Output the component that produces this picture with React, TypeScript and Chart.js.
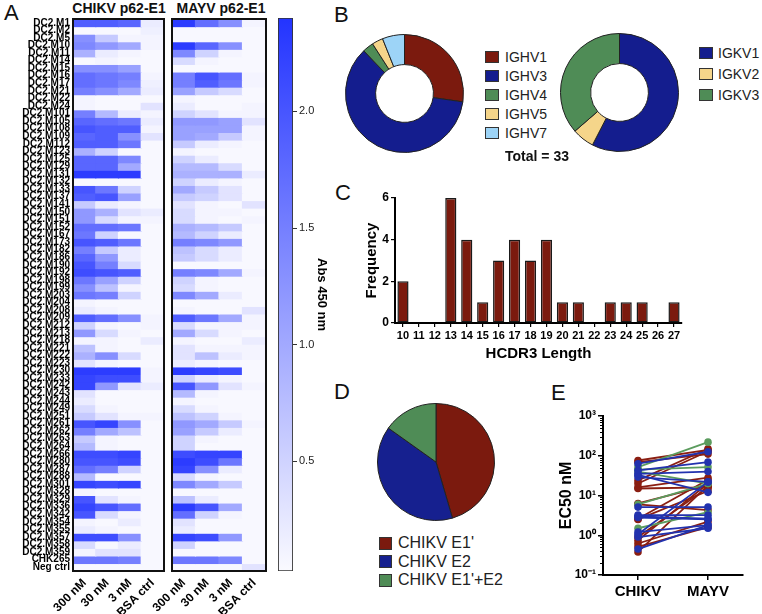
import React, { useEffect, useRef } from 'react';
import { Chart, registerables } from 'chart.js';
Chart.register(...registerables);

const FONT = "'Liberation Sans', Arial, Helvetica, sans-serif";
Chart.defaults.font.family = FONT;
Chart.defaults.color = '#000';

// ---------- Panel A: heatmap ----------
const rowLabels = [
  'DC2.M1', 'DC2.M2', 'DC2.M5', 'DC2.M10', 'DC2.M11', 'DC2.M14', 'DC2.M15', 'DC2.M16', 'DC2.M17', 'DC2.M21',
  'DC2.M22', 'DC2.M24', 'DC2.M101', 'DC2.M105', 'DC2.M108', 'DC2.M109', 'DC2.M112', 'DC2.M123', 'DC2.M125', 'DC2.M129',
  'DC2.M131', 'DC2.M132', 'DC2.M133', 'DC2.M137', 'DC2.M141', 'DC2.M150', 'DC2.M151', 'DC2.M152', 'DC2.M167', 'DC2.M173',
  'DC2.M182', 'DC2.M186', 'DC2.M190', 'DC2.M192', 'DC2.M198', 'DC2.M199', 'DC2.M203', 'DC2.M204', 'DC2.M208', 'DC2.M209',
  'DC2.M212', 'DC2.M213', 'DC2.M218', 'DC2.M221', 'DC2.M222', 'DC2.M223', 'DC2.M230', 'DC2.M233', 'DC2.M242', 'DC2.M243',
  'DC2.M244', 'DC2.M249', 'DC2.M251', 'DC2.M261', 'DC2.M262', 'DC2.M263', 'DC2.M264', 'DC2.M266', 'DC2.M280', 'DC2.M287',
  'DC2.M288', 'DC2.M301', 'DC2.M328', 'DC2.M329', 'DC2.M336', 'DC2.M342', 'DC2.M354', 'DC2.M355', 'DC2.M357', 'DC2.M358',
  'DC2.M359', 'CHK265', 'Neg ctrl',
];
const concLabels = ['300 nM', '30 nM', '3 nM', 'BSA ctrl'];

const chikv300 = [1.9,0.05,1.3,1.4,0.9,0.05,1.3,1.7,1.7,1.5, 0.1,0.1,1.5,1.8,2.0,1.8,1.9,0.9,1.8,1.8, 2.3,0.05,2.0,1.9,0.6,1.2,1.2,1.7,1.6,2.0, 1.5,1.8,2.0,2.1,1.6,1.3,1.6,0.1,0.2,1.9, 0.5,1.2,0.1,0.7,0.9,0.3,2.3,2.2,2.2,0.3, 0.2,0.4,0.6,2.0,1.5,0.6,0.8,2.1,2.0,1.7, 0.8,2.2,0.1,2.0,2.2,2.0,0.1,0.2,2.1,0.4, 0.1,1.6,0.05];
const chikv30 = [1.9,0.05,0.6,1.2,0.2,0.1,1.3,1.6,1.6,1.3, 0.05,0.05,0.8,1.7,1.9,1.9,1.9,0.5,1.8,1.8, 2.3,0.05,1.6,2.0,0.2,0.9,0.4,1.7,0.5,1.9, 0.6,1.2,1.5,2.0,1.1,0.7,1.5,0.05,0.1,1.7, 0.1,0.4,0.1,0.1,1.3,0.1,2.3,2.1,1.2,0.05, 0.05,0.1,0.3,2.2,1.0,0.1,0.1,2.1,2.0,1.5, 0.05,2.1,0.05,0.3,2.0,0.4,0.05,0.1,2.1,0.05, 0.3,1.6,0.05];
const chikv3 = [1.8,0.05,0.1,1.0,0.1,0.05,1.1,1.5,1.4,1.0, 0.05,0.05,0.2,1.6,1.9,1.3,1.6,0.05,1.4,1.0, 2.3,0.05,0.5,1.1,0.1,0.3,0.1,1.6,0.05,1.6, 0.2,0.2,0.4,1.9,0.5,0.1,0.5,0.05,0.05,1.3, 0.05,0.1,0.05,0.05,0.4,0.05,2.3,2.1,0.3,0.05, 0.05,0.05,0.1,1.3,0.7,0.05,0.05,2.2,2.1,0.5, 0.05,2.2,0.05,0.1,1.7,0.1,0.2,0.05,1.3,0.2, 0.3,1.5,0.05];
const chikvBsa = [0.2,0.15,0.1,0.1,0.05,0.05,0.05,0.1,0.15,0.2, 0.05,0.3,0.1,0.2,0.1,0.3,0.05,0.05,0.05,0.05, 0.05,0.05,0.05,0.05,0.05,0.2,0.1,0.05,0.05,0.05, 0.05,0.05,0.05,0.05,0.05,0.05,0.05,0.05,0.05,0.1, 0.1,0.05,0.2,0.05,0.05,0.05,0.1,0.1,0.2,0.05, 0.05,0.05,0.1,0.05,0.05,0.05,0.05,0.05,0.05,0.05, 0.05,0.05,0.05,0.05,0.05,0.05,0.05,0.05,0.05,0.05, 0.05,0.05,0.05];
const mayv300 = [2.3,0.05,0.05,2.3,1.4,0.4,0.05,1.5,1.5,1.1, 0.1,0.2,0.5,1.2,1.1,1.1,0.6,0.1,0.5,0.8, 0.9,0.5,1.0,0.6,0.3,0.4,0.4,0.9,0.8,1.5, 0.7,0.6,0.05,1.5,0.5,0.4,1.4,0.05,0.1,1.9, 0.4,1.0,0.1,0.3,0.3,0.2,2.3,0.5,2.0,0.8, 0.1,0.4,0.7,1.2,1.1,0.5,0.5,2.1,2.3,2.2, 0.4,1.4,0.05,0.7,2.3,1.7,0.3,0.2,2.2,0.5, 0.05,1.6,0.05];
const mayv30 = [1.7,0.05,0.05,1.8,0.5,0.1,0.05,2.0,1.9,0.6, 0.05,0.05,0.3,1.2,1.1,1.0,0.2,0.05,0.2,0.8, 0.9,0.2,0.6,0.5,0.1,0.1,0.1,0.8,0.5,1.4, 0.4,0.4,0.05,1.4,0.1,0.1,1.0,0.05,0.05,1.6, 0.1,0.4,0.05,0.1,0.7,0.1,2.2,0.2,1.2,0.1, 0.05,0.1,0.5,1.0,0.6,0.1,0.05,2.2,2.1,1.3, 0.1,1.0,0.05,0.2,2.0,0.5,0.05,0.05,2.1,0.05, 0.05,1.6,0.05];
const mayv3 = [1.3,0.05,0.05,1.3,0.1,0.05,0.05,1.7,1.6,0.4, 0.05,0.05,0.1,1.1,1.1,0.6,0.1,0.05,0.05,0.4, 0.9,0.1,0.3,0.3,0.05,0.1,0.05,0.6,0.2,1.2, 0.2,0.2,0.05,1.0,0.05,0.05,0.2,0.05,0.05,1.0, 0.1,0.1,0.05,0.1,0.2,0.05,2.1,0.1,0.3,0.05, 0.05,0.05,0.1,0.6,0.2,0.05,0.05,2.2,1.6,0.2, 0.05,0.6,0.05,0.05,1.0,0.1,0.05,0.05,1.2,0.05, 0.05,1.4,0.05];
const mayvBsa = [0.1,0.05,0.05,0.05,0.05,0.05,0.05,0.1,0.1,0.05, 0.05,0.1,0.1,0.3,0.1,0.1,0.05,0.05,0.05,0.05, 0.2,0.05,0.05,0.05,0.3,0.05,0.1,0.05,0.05,0.05, 0.05,0.05,0.05,0.1,0.05,0.05,0.05,0.05,0.3,0.1, 0.1,0.05,0.2,0.1,0.1,0.05,0.05,0.05,0.1,0.05, 0.05,0.05,0.05,0.1,0.05,0.05,0.05,0.05,0.05,0.05, 0.05,0.05,0.05,0.05,0.05,0.05,0.05,0.05,0.05,0.05, 0.05,0.05,0.3];

const absMin = 0.03;
const absMax = 2.4;
const absTicks = [0.5, 1.0, 1.5, 2.0];

// ---------- Panel B ----------
const ighvLabels = ['IGHV1', 'IGHV3', 'IGHV4', 'IGHV5', 'IGHV7'];
const ighvCounts = [9, 20, 1, 1, 2];
const igkvLabels = ['IGKV1', 'IGKV2', 'IGKV3'];
const igkvCounts = [19, 2, 12];

// ---------- Panel C ----------
const cdr3Lengths = ['10','11','12','13','14','15','16','17','18','19','20','21','22','23','24','25','26','27'];
const cdr3Freq = [2, 0, 0, 6, 4, 1, 3, 4, 3, 4, 1, 1, 0, 1, 1, 1, 0, 1];

// ---------- Panel D ----------
const epitopeLabels = ["CHIKV E1'", 'CHIKV E2', "CHIKV E1'+E2"];
const epitopeCounts = [15, 13, 5];

// ---------- Panel E ----------
const ec50Groups = ['CHIKV', 'MAYV'];
const ec50Chikv = [63, 43, 35, 29, 33, 5.1, 3.2, 3.0, 2.8, 1.2, 1.06, 0.9, 0.45,
  52, 45, 40, 6, 1.5,
  76, 69, 24, 20, 16, 15, 6.3, 6, 2.6, 2.5, 0.9, 0.75, 0.62, 0.51, 0.38];
const ec50Mayv = [126, 69, 40, 22, 12, 5.1, 3.2, 2.6, 2.5, 1.8, 22, 1.5, 1.8,
  220, 52, 20, 20, 3.8,
  140, 110, 150, 130, 28, 16, 18, 4.3, 25, 13, 16, 20, 2.2, 1.6, 18];
const ec50Epitope = [1,1,1,1,1,1,1,1,1,1,1,1,1, 2,2,2,2,2, 0,0,0,0,0,0,0,0,0,0,0,0,0,0,0];

// ---------- styling ----------
const RED = '#7B1A0E';
const NAVY = '#141D8E';
const GREEN = '#4F8C56';
const YELLOW = '#F5D58A';
const LIGHTBLUE = '#9DD4F7';
const ighvColors = [RED, NAVY, GREEN, YELLOW, LIGHTBLUE];
const igkvColors = [NAVY, YELLOW, GREEN];
const epitopeColors = [RED, '#16208F', GREEN];
const ec50Colors = ['#8A1E12', '#2232AE', '#5B9C5E'];

const LOW = [250, 250, 255];
const HIGH = [35, 52, 255];
function heatColor(v: number) {
  const t = Math.max(0, Math.min(1, (v - absMin) / (absMax - absMin)));
  const c = LOW.map((l, i) => Math.round(l + (HIGH[i] - l) * t));
  return `rgb(${c[0]},${c[1]},${c[2]})`;
}

const framePlugin = {
  id: 'frame',
  afterDatasetsDraw(chart: any) {
    const { ctx, chartArea } = chart;
    ctx.save();
    ctx.strokeStyle = '#111';
    ctx.lineWidth = 2;
    ctx.strokeRect(chartArea.left, chartArea.top, chartArea.right - chartArea.left, chartArea.bottom - chartArea.top);
    ctx.restore();
  },
};

function heatmapConfig(cols: number[][], showLabels: boolean, yWidth: number, padRight: number): any {
  return {
    type: 'bar',
    data: {
      labels: concLabels,
      datasets: rowLabels.map((name, i) => ({
        label: name,
        data: cols.map(() => 1),
        backgroundColor: cols.map((c) => heatColor(c[i])),
        borderWidth: 0,
        inflateAmount: 0.6,
        barPercentage: 1,
        categoryPercentage: 1,
      })),
    },
    options: {
      animation: false,
      responsive: false,
      devicePixelRatio: 1,
      layout: { padding: { top: 19, left: 0, right: padRight, bottom: 0 } },
      plugins: { legend: { display: false }, tooltip: { enabled: false } },
      scales: {
        x: {
          stacked: true,
          grid: { display: false },
          border: { display: false },
          ticks: { color: '#000', font: { size: 12, weight: 'bold' }, minRotation: 45, maxRotation: 45, padding: -3, autoSkip: false },
          afterFit: (s: any) => { s.height = 43; },
        },
        y: {
          type: 'linear',
          stacked: true,
          min: 0,
          max: rowLabels.length,
          reverse: true,
          grid: { display: false, drawTicks: false, tickLength: 0 },
          border: { display: false },
          afterBuildTicks: (s: any) => { s.ticks = rowLabels.map((_, i) => ({ value: i + 0.5 })); },
          ticks: {
            display: showLabels,
            autoSkip: false,
            color: '#000',
            padding: 3,
            font: { size: 10, weight: 'bold' },
            callback: (v: number) => rowLabels[Math.floor(v)],
          },
          afterFit: (s: any) => { s.width = yWidth; },
        },
      },
    },
    plugins: [framePlugin],
  };
}

function colorbarConfig(): any {
  return {
    type: 'bar',
    data: {
      labels: [''],
      datasets: [{
        data: [[absMin, absMax]],
        backgroundColor: (c: any) => {
          const ca = c.chart.chartArea;
          if (!ca) return '#fff';
          const g = c.chart.ctx.createLinearGradient(0, ca.bottom, 0, ca.top);
          g.addColorStop(0, `rgb(${LOW.join(',')})`);
          g.addColorStop(1, `rgb(${HIGH.join(',')})`);
          return g;
        },
        borderColor: '#333',
        borderWidth: 1.2,
        borderSkipped: false,
        barPercentage: 1,
        categoryPercentage: 1,
      }],
    },
    options: {
      animation: false,
      responsive: false,
      devicePixelRatio: 1,
      layout: { padding: { top: 18, left: 8, bottom: 43, right: 0 } },
      plugins: { legend: { display: false }, tooltip: { enabled: false } },
      scales: {
        x: { display: false },
        y: {
          position: 'right',
          min: absMin,
          max: absMax,
          afterBuildTicks: (s: any) => { s.ticks = absTicks.map((v) => ({ value: v })); },
          ticks: { color: '#222', font: { size: 11 }, padding: 2, callback: (v: number) => v.toFixed(1) },
          grid: { drawOnChartArea: false, tickLength: 4, color: '#333' },
          border: { display: false },
          title: { display: true, text: 'Abs 450 nm', color: '#000', font: { size: 13, weight: 'bold' }, padding: 0 },
          afterFit: (s: any) => { s.width = 36; },
        },
      },
    },
  };
}

function ringConfig(labels: string[], counts: number[], colors: string[], cutout: string): any {
  return {
    type: 'doughnut',
    data: { labels, datasets: [{ data: counts, backgroundColor: colors, borderColor: '#222', borderWidth: 1 }] },
    options: {
      animation: false,
      responsive: false,
      devicePixelRatio: 1,
      cutout,
      layout: { padding: 0 },
      plugins: { legend: { display: false }, tooltip: { enabled: false } },
    },
  };
}

function cdr3Config(): any {
  return {
    type: 'bar',
    data: {
      labels: cdr3Lengths,
      datasets: [{
        data: cdr3Freq,
        backgroundColor: RED,
        borderColor: '#1a1a1a',
        borderWidth: 1.5,
        borderSkipped: false,
        barPercentage: 0.7,
        categoryPercentage: 1,
      }],
    },
    options: {
      animation: false,
      responsive: false,
      devicePixelRatio: 1,
      layout: { padding: { top: 18, right: 80, left: 0, bottom: 0 } },
      plugins: { legend: { display: false }, tooltip: { enabled: false } },
      scales: {
        x: {
          grid: { drawOnChartArea: false, offset: false, tickLength: 4, color: '#000', lineWidth: 1.2 },
          border: { display: true, color: '#000', width: 2 },
          ticks: { color: '#000', font: { size: 11, weight: 'bold' }, padding: 2, autoSkip: false, maxRotation: 0 },
          title: { display: true, text: 'HCDR3 Length', color: '#000', font: { size: 15, weight: 'bold' }, padding: { top: 0, bottom: 0 } },
          afterFit: (s: any) => { s.height = 40; },
        },
        y: {
          min: 0,
          max: 6,
          ticks: { stepSize: 2, color: '#000', font: { size: 12, weight: 'bold' }, padding: 2 },
          grid: { drawOnChartArea: false, tickLength: 4, color: '#000', lineWidth: 1.2 },
          border: { display: true, color: '#000', width: 2 },
          title: { display: true, text: 'Frequency', color: '#000', font: { size: 15, weight: 'bold' }, padding: { top: 8, bottom: 0 } },
          afterFit: (s: any) => { s.width = 40; },
        },
      },
    },
  };
}

const supMap: Record<string, string> = { '-1': '10⁻¹', '0': '10⁰', '1': '10¹', '2': '10²', '3': '10³' };
const minorTicksPlugin = {
  id: 'minorTicks',
  afterDraw(chart: any) {
    const s = chart.scales.y;
    const ctx = chart.ctx;
    ctx.save();
    ctx.strokeStyle = '#000';
    ctx.lineWidth = 1;
    for (const d of [0.1, 1, 10, 100]) {
      for (let k = 2; k < 10; k++) {
        const y = Math.round(s.getPixelForValue(k * d)) + 0.5;
        ctx.beginPath();
        ctx.moveTo(s.right - 3, y);
        ctx.lineTo(s.right, y);
        ctx.stroke();
      }
    }
    ctx.restore();
  },
};

function ec50Config(): any {
  return {
    type: 'line',
    data: {
      labels: ec50Groups,
      datasets: ec50Chikv.map((c, i) => {
        const col = ec50Colors[ec50Epitope[i]];
        return {
          data: [c, ec50Mayv[i]],
          borderColor: col,
          backgroundColor: col,
          borderWidth: 1.8,
          pointRadius: 3.8,
          pointBorderWidth: 0,
          pointBackgroundColor: col,
        };
      }),
    },
    options: {
      animation: false,
      responsive: false,
      devicePixelRatio: 1,
      layout: { padding: { top: 16, right: 19, left: 0, bottom: 0 } },
      plugins: { legend: { display: false }, tooltip: { enabled: false } },
      scales: {
        x: {
          offset: true,
          grid: { drawOnChartArea: false, offset: false, tickLength: 5, color: '#000', lineWidth: 1.5 },
          border: { display: true, color: '#000', width: 2 },
          ticks: { color: '#000', font: { size: 15, weight: 'bold' }, padding: 3 },
          afterFit: (s: any) => { s.height = 39; },
        },
        y: {
          type: 'logarithmic',
          min: 0.1,
          max: 1000,
          afterBuildTicks: (s: any) => { s.ticks = [0.1, 1, 10, 100, 1000].map((v) => ({ value: v })); },
          ticks: {
            color: '#000',
            font: { size: 12, weight: 'bold' },
            padding: 2,
            callback: (v: number) => supMap[String(Math.round(Math.log10(v)))],
          },
          grid: { drawOnChartArea: false, tickLength: 5, color: '#000', lineWidth: 1.5 },
          border: { display: true, color: '#000', width: 2 },
          title: { display: true, text: 'EC50 nM', color: '#000', font: { size: 16, weight: 'bold' }, padding: { top: 2, bottom: 0 } },
          afterFit: (s: any) => { s.width = 48; },
        },
      },
    },
    plugins: [minorTicksPlugin],
  };
}

function ChartBox(props: { left: number; top: number; width: number; height: number; make: () => any }) {
  const ref = useRef<HTMLCanvasElement>(null);
  useEffect(() => {
    const chart = new Chart(ref.current as HTMLCanvasElement, props.make());
    return () => chart.destroy();
  }, []);
  return (
    <canvas
      ref={ref}
      width={props.width}
      height={props.height}
      style={{ position: 'absolute', left: props.left, top: props.top, width: props.width, height: props.height }}
    />
  );
}

function Text(props: { left: number; top: number; size: number; bold?: boolean; children: React.ReactNode; center?: boolean; width?: number }) {
  return (
    <div
      style={{
        position: 'absolute',
        left: props.left,
        top: props.top,
        width: props.width,
        fontSize: props.size,
        lineHeight: 1,
        fontWeight: props.bold ? 'bold' : 'normal',
        fontFamily: FONT,
        color: '#111',
        whiteSpace: 'nowrap',
        textAlign: props.center ? 'center' : 'left',
      }}
    >
      {props.children}
    </div>
  );
}

function Legend(props: { left: number; centers: number[]; labels: string[]; colors: string[]; size: number; boxW: number; boxH: number; gap: number }) {
  return (
    <>
      {props.labels.map((l, i) => (
        <div
          key={l}
          style={{
            position: 'absolute',
            left: props.left,
            top: props.centers[i] - 10,
            height: 20,
            display: 'flex',
            alignItems: 'center',
            fontFamily: FONT,
            fontSize: props.size,
            color: '#222',
            whiteSpace: 'nowrap',
          }}
        >
          <span
            style={{
              display: 'inline-block',
              width: props.boxW,
              height: props.boxH,
              boxSizing: 'border-box',
              border: '1px solid #333',
              background: props.colors[i],
              marginRight: props.gap,
            }}
          />
          <span>{l}</span>
        </div>
      ))}
    </>
  );
}

export default function App() {
  useEffect(() => {
    document.body.style.margin = '0';
  }, []);
  return (
    <div style={{ position: 'relative', width: 762, height: 614, overflow: 'hidden', background: '#fff' }}>
      {/* Panel A */}
      <Text left={4} top={2} size={22}>A</Text>
      <Text left={58} top={1} size={14} bold width={122} center>CHIKV p62-E1</Text>
      <Text left={160} top={1} size={14} bold width={122} center>MAYV p62-E1</Text>
      <ChartBox left={0} top={0} width={166} height={614} make={() => heatmapConfig([chikv300, chikv30, chikv3, chikvBsa], true, 73, 2)} />
      <ChartBox left={100} top={0} width={170} height={614} make={() => heatmapConfig([mayv300, mayv30, mayv3, mayvBsa], false, 72, 4)} />
      <ChartBox left={270} top={0} width={59} height={614} make={colorbarConfig} />

      {/* Panel B */}
      <Text left={334} top={4} size={22}>B</Text>
      <ChartBox left={345} top={34} width={119} height={119} make={() => ringConfig(ighvLabels, ighvCounts, ighvColors, '49%')} />
      <Legend left={485} centers={[57, 76, 95, 114, 133]} labels={ighvLabels} colors={ighvColors} size={14} boxW={14} boxH={12} gap={6} />
      <ChartBox left={560} top={33} width={119} height={119} make={() => ringConfig(igkvLabels, igkvCounts, igkvColors, '49%')} />
      <Legend left={699} centers={[52.5, 74, 95]} labels={igkvLabels} colors={igkvColors} size={14} boxW={14} boxH={12} gap={5} />
      <Text left={477} top={149} size={14} bold width={120} center>Total = 33</Text>

      {/* Panel C */}
      <Text left={335} top={182} size={22}>C</Text>
      <ChartBox left={355} top={180} width={407} height={183} make={cdr3Config} />

      {/* Panel D */}
      <Text left={334} top={381} size={22}>D</Text>
      <ChartBox left={377} top={403} width={118} height={118} make={() => ringConfig(epitopeLabels, epitopeCounts, epitopeColors, 0 as any)} />
      <Legend left={379} centers={[543, 561.5, 580]} labels={epitopeLabels} colors={epitopeColors} size={16} boxW={13} boxH={13} gap={6} />

      {/* Panel E */}
      <Text left={551} top={382} size={22}>E</Text>
      <ChartBox left={555} top={400} width={207} height={214} make={ec50Config} />
    </div>
  );
}
